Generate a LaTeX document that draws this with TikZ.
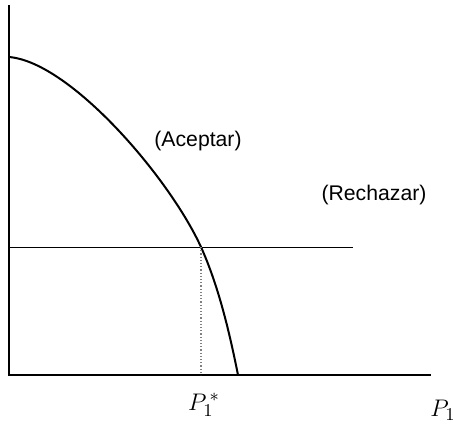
\documentclass[tikz,border=0pt]{standalone}
\usepackage{fontspec}
\setsansfont{Liberation Sans}
\usepackage{tikz}
\usetikzlibrary{positioning}

\begin{document}
\begin{tikzpicture}[
    x=0.5pt, y=-0.5pt,
    axis/.style={line width=1pt},
    curve/.style={line width=1pt, line join=round},
    level/.style={line width=0.5pt},
    guide/.style={densely dotted, line width=0.6pt, gray},
    region/.style={font=\sffamily\fontsize{10.6}{12}\selectfont},
    tick/.style={font=\fontsize{13}{15}\selectfont},
]
    \useasboundingbox (0,0) rectangle (453,425);

    % Axes
    \coordinate (top) at (9,5);
    \coordinate (origin) at (9,375);
    \coordinate (right) at (431,375);
    \draw[axis] (top) -- (origin) -- (right);

    % Threshold level
    \coordinate (levelstart) at (9,247);
    \coordinate (cross) at (201,247);
    \coordinate (levelend) at (353,247);
    \draw[level] (levelstart) -- (levelend);

    % Boundary curve
    \coordinate (start) at (9,57);
    \coordinate (foot) at (238,375);
    \draw[curve] (start) .. controls (70,62) and (169,177) .. (cross)
        .. controls (219,287) and (230,335) .. (foot);

    % Dotted guide
    \coordinate (guidefoot) at (201,375);
    \draw[guide] (cross) -- (guidefoot);

    % Labels
    \node[region] (accept) at (198,141) {(Aceptar)};
    \node[region] (reject) at (374,195) {(Rechazar)};
    \node[tick] (pstar) at (204,405) {$P_1^{\,*}$};
    \node[tick] (paxis) at (443,410) {$P_1$};
\end{tikzpicture}
\end{document}
